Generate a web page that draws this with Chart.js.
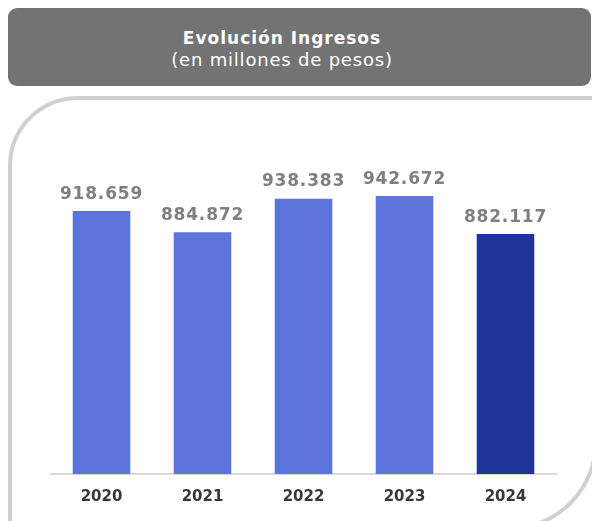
<!DOCTYPE html>
<html lang="es">
<head>
<meta charset="utf-8">
<title>Evolución Ingresos</title>
<script src="https://cdn.jsdelivr.net/npm/chart.js@4/dist/chart.umd.min.js"></script>
<style>
  html, body { margin: 0; padding: 0; background: #fff; }
  body { width: 592px; height: 521px; position: relative; overflow: hidden; font-family: "DejaVu Sans", Verdana, sans-serif; }
  .header {
    position: absolute; left: 8px; top: 8px; width: 583px; height: 78px;
    background: #737373; border-radius: 9px;
  }
  .header-text {
    position: absolute; left: 9px; top: 8px; width: 546px; height: 77px;
    color: #fff; text-align: center;
  }
  .header-text .t1 { font-weight: bold; font-size: 17px; letter-spacing: 1px; margin-top: 19px; line-height: 22px; }
  .header-text .t2 { font-size: 18px; letter-spacing: 0.8px; line-height: 22px; }
  .panel {
    position: absolute; left: 8px; top: 96px; width: 582px; height: 427px;
    border: 4px solid #d0d0d0; border-radius: 70px 0 90px 0;
  }
  .chart-box { position: absolute; left: 0; top: 0; width: 592px; height: 521px; }
</style>
</head>
<body>
<div class="header"></div>
<div class="header-text">
  <div class="t1">Evolución Ingresos</div>
  <div class="t2">(en millones de pesos)</div>
</div>
<div class="panel"></div>
<div class="chart-box"><canvas id="ingresosChart" width="592" height="521"></canvas></div>
<script>
const years = ['2020', '2021', '2022', '2023', '2024'];
// ingresos en millones de pesos
const ingresos = [918659, 884872, 938383, 942672, 882117];
const barColors = ['#5d74dc', '#5d74dc', '#5d74dc', '#5d74dc', '#1f359a'];

// miles con punto: 918659 -> "918.659"
function formatMiles(v) {
  return String(Math.round(v)).replace(/\B(?=(\d{3})+(?!\d))/g, '.');
}

// etiquetas de valor sobre cada barra
const valueLabels = {
  id: 'valueLabels',
  afterDatasetsDraw(chart) {
    const ctx = chart.ctx;
    const meta = chart.getDatasetMeta(0);
    ctx.save();
    ctx.font = 'bold 17px "DejaVu Sans", Verdana, sans-serif';
    ctx.letterSpacing = '0.8px';
    ctx.fillStyle = '#7f7f7f';
    ctx.textAlign = 'center';
    ctx.textBaseline = 'alphabetic';
    meta.data.forEach((bar, i) => {
      ctx.fillText(formatMiles(chart.data.datasets[0].data[i]), bar.x, bar.y - 12.5);
    });
    ctx.restore();
  }
};

const ctx = document.getElementById('ingresosChart').getContext('2d');
new Chart(ctx, {
  type: 'bar',
  data: {
    labels: years,
    datasets: [{
      data: ingresos,
      backgroundColor: barColors,
      borderWidth: 0,
      barPercentage: 0.57,
      categoryPercentage: 1
    }]
  },
  options: {
    responsive: false,
    animation: false,
    layout: { padding: { left: 51, right: 36, top: 160, bottom: 0 } },
    plugins: {
      legend: { display: false },
      tooltip: { enabled: false }
    },
    scales: {
      x: {
        grid: { display: false, drawTicks: false },
        border: { display: true, color: '#d9d9d9', width: 2 },
        ticks: {
          color: '#383838',
          padding: 14,
          font: { family: '"DejaVu Sans", Verdana, sans-serif', size: 15, weight: 'bold' }
        },
        afterFit(scale) { scale.height = 47; }
      },
      y: {
        display: false,
        min: 500000,
        max: 1000000
      }
    }
  },
  plugins: [valueLabels]
});
</script>
</body>
</html>
